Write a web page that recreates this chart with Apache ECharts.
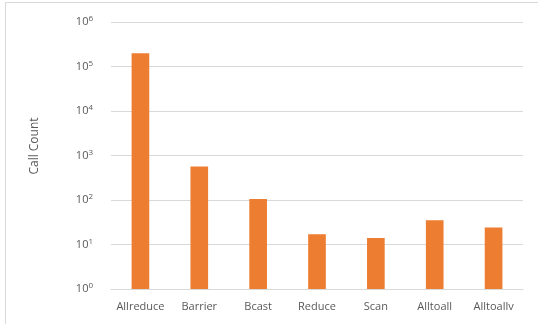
<!DOCTYPE html>
<html>
<head>
<meta charset="utf-8">
<script src="https://cdn.jsdelivr.net/npm/echarts@6/dist/echarts.min.js"></script>
<style>
  html, body { margin: 0; padding: 0; background: #fff; }
  #chart { width: 538px; height: 324px; }
</style>
</head>
<body>
<div id="chart"></div>
<script>
// MPI collective operations and how often each was called
const categories = ['Allreduce', 'Barrier', 'Bcast', 'Reduce', 'Scan', 'Alltoall', 'Alltoallv'];
const callCounts = [198000, 565, 105, 17, 14, 35, 24];
// Decades shown on the logarithmic value axis
const yMin = 1;
const yMax = 1000000;
const axisTitle = 'Call Count';

const textColor = '#595959';
const gridColor = '#d9d9d9';
const barColor = '#ED7D31';
const fontFamily = '"Open Sans", "Noto Sans", sans-serif';

const chart = echarts.init(document.getElementById('chart'), null, { renderer: 'canvas' });

chart.setOption({
  animation: false,
  backgroundColor: '#fff',
  grid: { left: 111, right: 15, top: 22, bottom: 35, containLabel: false },
  xAxis: {
    type: 'category',
    data: categories,
    axisTick: { show: false },
    axisLine: { lineStyle: { color: gridColor, width: 1 } },
    axisLabel: { interval: 0, color: textColor, fontSize: 11, fontFamily: fontFamily, margin: 12 }
  },
  yAxis: {
    type: 'log',
    logBase: 10,
    min: yMin,
    max: yMax,
    axisLine: { show: false },
    axisTick: { show: false },
    splitLine: { lineStyle: { color: gridColor, width: 1 } },
    axisLabel: {
      margin: 18,
      formatter: function (v) {
        const e = Math.round(Math.log10(v));
        return '{b|10}{s|' + e + '}';
      },
      rich: {
        b: { color: textColor, fontSize: 11, fontFamily: fontFamily, lineHeight: 14 },
        s: { color: textColor, fontSize: 8, fontFamily: fontFamily, verticalAlign: 'top', lineHeight: 14, padding: [0, 0, 6, 0] }
      }
    }
  },
  series: [{
    type: 'bar',
    data: callCounts,
    barWidth: '30%',
    itemStyle: { color: barColor }
  }],
  graphic: [
    {
      type: 'rect',
      shape: { x: 5.5, y: 2.5, width: 600, height: 400 },
      style: { fill: 'none', stroke: gridColor, lineWidth: 1 },
      silent: true,
      z: -1
    },
    {
      type: 'text',
      x: 35,
      y: 146,
      rotation: Math.PI / 2,
      style: {
        text: axisTitle,
        fill: textColor,
        fontSize: 12,
        fontFamily: fontFamily,
        align: 'center',
        verticalAlign: 'middle'
      }
    }
  ]
});
</script>
</body>
</html>
